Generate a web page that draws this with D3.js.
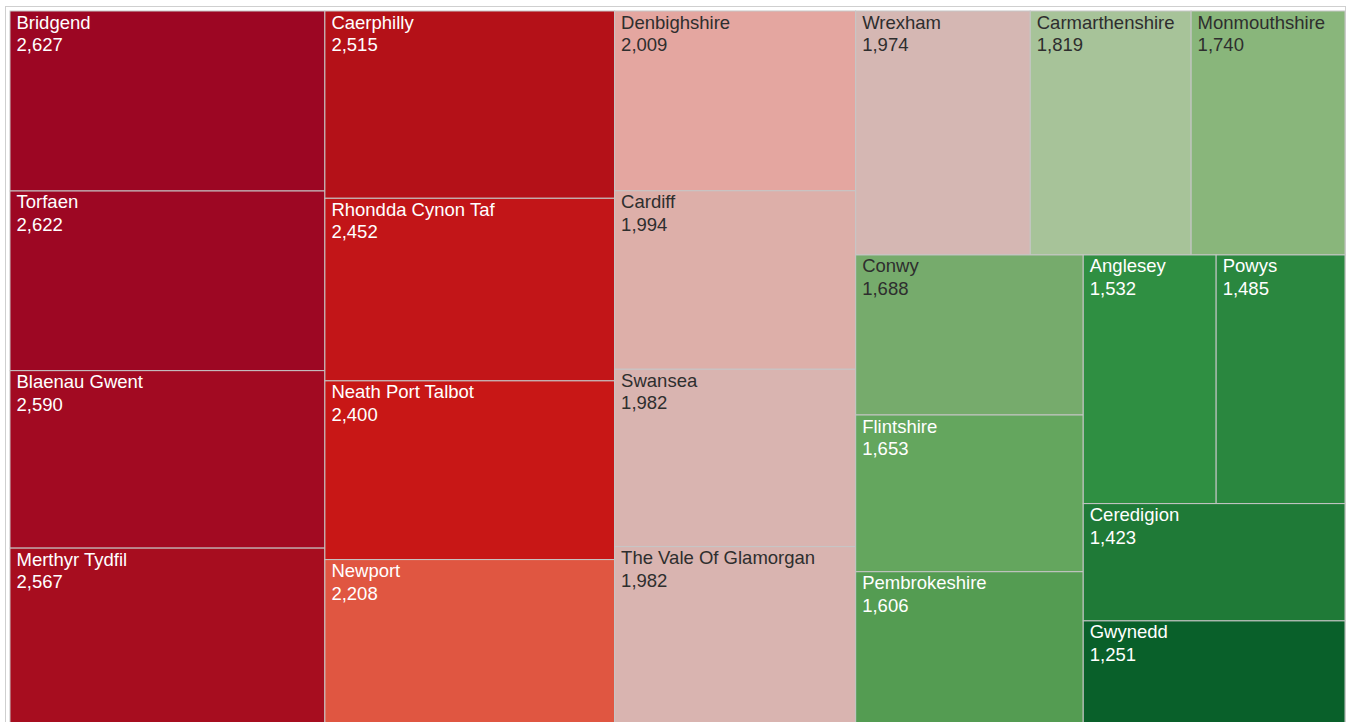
<!DOCTYPE html>
<html>
<head>
<meta charset="utf-8">
<script src="https://cdn.jsdelivr.net/npm/d3@7"></script>
<style>
  html, body { margin: 0; padding: 0; background: #ffffff; }
  svg { display: block; }
</style>
</head>
<body>
<svg id="chart" width="1348" height="722"></svg>
<script>
// ---- Data ----
const authorities = [
  "Bridgend", "Torfaen", "Blaenau Gwent", "Merthyr Tydfil",
  "Caerphilly", "Rhondda Cynon Taf", "Neath Port Talbot", "Newport",
  "Denbighshire", "Cardiff", "Swansea", "The Vale Of Glamorgan",
  "Wrexham", "Carmarthenshire", "Monmouthshire",
  "Conwy", "Flintshire", "Pembrokeshire",
  "Anglesey", "Powys", "Ceredigion", "Gwynedd"
];
const values = [
  2627, 2622, 2590, 2567,
  2515, 2452, 2400, 2208,
  2009, 1994, 1982, 1982,
  1974, 1819, 1740,
  1688, 1653, 1606,
  1532, 1485, 1423, 1251
];

// ---- Layout ----
const X0 = 10, Y0 = 11, W = 1335, H = 713;
const svg = d3.select("#chart");

// frame
svg.append("rect")
  .attr("x", 5.5).attr("y", 6.5)
  .attr("width", 1340).attr("height", 730)
  .attr("fill", "none").attr("stroke", "#cfcfcf").attr("stroke-width", 1);

const root = d3.hierarchy({children: authorities.map((n, i) => ({name: n, value: values[i]}))})
  .sum(d => d.value || 0)
  .sort((a, b) => b.value - a.value);

d3.treemap()
  .tile(d3.treemapSquarify)
  .size([W, H])
  .round(false)(root);

// diverging red-green colour scale
const color = d3.scaleLinear()
  .domain([1251, 1423, 1485, 1532, 1606, 1653, 1688, 1740, 1819, 1974, 1982, 1994, 2009, 2208, 2400, 2452, 2515, 2567, 2590, 2622, 2627])
  .range(["#09602a", "#1f7a37", "#2a873f", "#2f8f42", "#549c52", "#64a65e", "#76ab6c", "#89b67b", "#a7c399",
          "#d5b7b3", "#d9b4b0", "#ddafa9", "#e4a6a0", "#e05641", "#c81716", "#c21518", "#b41118",
          "#a70d1f", "#a20a22", "#9d0723", "#9c0623"])
  .interpolate(d3.interpolateRgb);

const g = svg.append("g").attr("transform", `translate(${X0},${Y0})`);

const cell = g.selectAll("g.cell")
  .data(root.leaves())
  .join("g")
  .attr("class", "cell")
  .attr("transform", d => `translate(${d.x0},${d.y0})`);

cell.append("rect")
  .attr("width", d => d.x1 - d.x0)
  .attr("height", d => d.y1 - d.y0)
  .attr("fill", d => color(d.value))
  .attr("stroke", "#c6c6c6")
  .attr("stroke-width", 1);

const fmt = d3.format(",");
const textFill = d => d3.lab(color(d.value)).l > 64 ? "#2e2e2e" : "#ffffff";

cell.append("text")
  .attr("x", 6.5).attr("y", 17.5)
  .attr("font-family", "'Liberation Sans', Arial, Helvetica, sans-serif")
  .attr("font-size", "18.5px")
  .attr("fill", textFill)
  .text(d => d.data.name);

cell.append("text")
  .attr("x", 6.5).attr("y", 40)
  .attr("font-family", "'Liberation Sans', Arial, Helvetica, sans-serif")
  .attr("font-size", "18.5px")
  .attr("fill", textFill)
  .text(d => fmt(d.value));
</script>
</body>
</html>
